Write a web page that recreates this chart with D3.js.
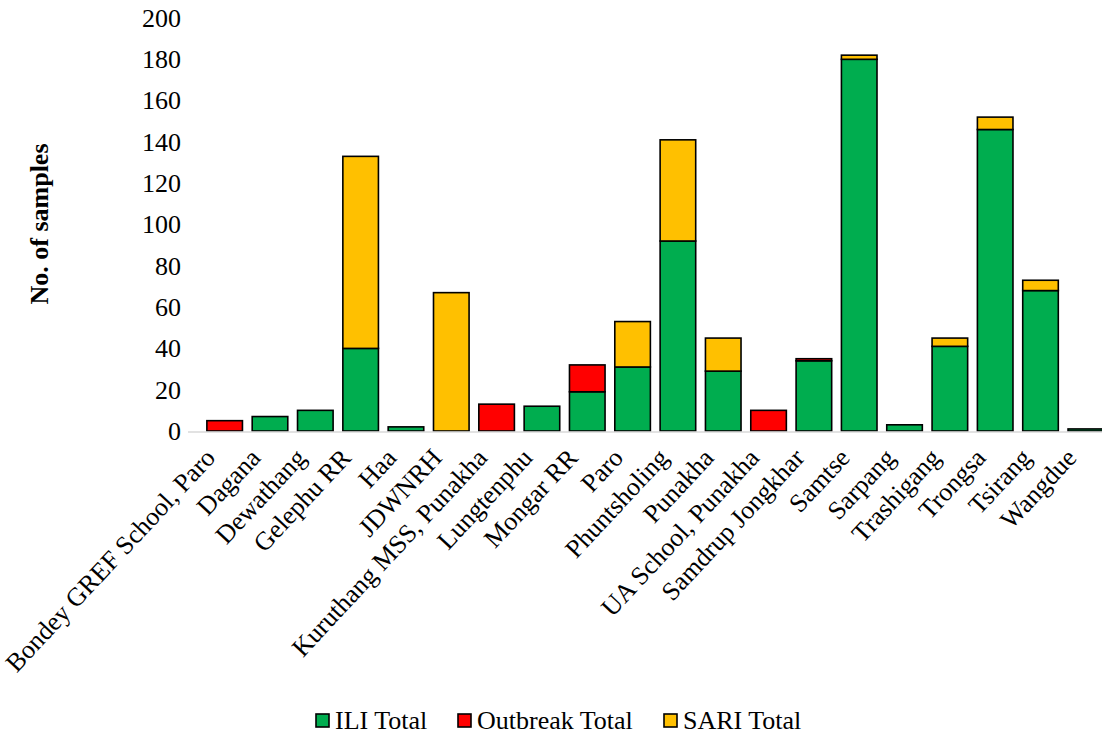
<!DOCTYPE html>
<html>
<head>
<meta charset="utf-8">
<script src="https://cdn.jsdelivr.net/npm/d3@7"></script>
<style>
  html, body { margin: 0; padding: 0; background: #fff; }
  svg text { font-family: "Liberation Serif", "Times New Roman", serif; fill: #000; }
</style>
</head>
<body>
<svg id="chart" width="1102" height="738"></svg>
<script>
// Samples per sentinel site, stacked by surveillance stream
const sites = [
  "Bondey GREF School, Paro", "Dagana", "Dewathang", "Gelephu RR", "Haa",
  "JDWNRH", "Kuruthang MSS, Punakha", "Lungtenphu", "Mongar RR", "Paro",
  "Phuntsholing", "Punakha", "UA School, Punakha", "Samdrup Jongkhar", "Samtse",
  "Sarpang", "Trashigang", "Trongsa", "Tsirang", "Wangdue"
];
const iliTotal      = [0, 7, 10, 40, 2, 0, 0, 12, 19, 31, 92, 29, 0, 34, 180, 3, 41, 146, 68, 1];
const outbreakTotal = [5, 0, 0, 0, 0, 0, 13, 0, 13, 0, 0, 0, 10, 1, 0, 0, 0, 0, 0, 0];
const sariTotal     = [0, 0, 0, 93, 0, 67, 0, 0, 0, 22, 49, 16, 0, 0, 2, 0, 4, 6, 5, 0];

const seriesNames  = ["ILI Total", "Outbreak Total", "SARI Total"];
const seriesColors = ["#00AD4F", "#FF0000", "#FFC000"];
const yTicks = [0, 20, 40, 60, 80, 100, 120, 140, 160, 180, 200];

const FONT = '"Liberation Serif", "Times New Roman", serif';
const FS = "26px";

const rows = sites.map((s, i) => ({
  site: s,
  "ILI Total": iliTotal[i],
  "Outbreak Total": outbreakTotal[i],
  "SARI Total": sariTotal[i]
}));

const svg = d3.select("#chart");
const plot = { left: 202, right: 1108.5, top: 18, bottom: 431 };

const x = d3.scaleBand()
  .domain(sites)
  .range([plot.left, plot.right])
  .paddingInner(0.215)
  .paddingOuter(0.1075);

const y = d3.scaleLinear().domain([0, 200]).range([plot.bottom, plot.top]);

const stack = d3.stack().keys(seriesNames)(rows);

// stacked bars
svg.append("g")
  .selectAll("g")
  .data(stack)
  .join("g")
  .attr("fill", (d, i) => seriesColors[i])
  .selectAll("rect")
  .data(d => d.filter(p => p[1] - p[0] > 0))
  .join("rect")
  .attr("x", d => x(d.data.site))
  .attr("width", x.bandwidth())
  .attr("y", d => y(d[1]))
  .attr("height", d => y(d[0]) - y(d[1]))
  .attr("stroke", "#000")
  .attr("stroke-width", 1.6);

// category baseline
svg.append("line")
  .attr("x1", 188).attr("x2", 1102)
  .attr("y1", y(0) + 1).attr("y2", y(0) + 1)
  .attr("stroke", "#d9d9d9").attr("stroke-width", 1.5);

// value axis
const yAxis = d3.axisLeft(y).tickValues(yTicks).tickSize(0).tickPadding(0);
svg.append("g")
  .attr("transform", "translate(181,0)")
  .call(yAxis)
  .attr("font-family", FONT)
  .attr("font-size", FS)
  .call(g => g.select(".domain").remove())
  .selectAll("text")
  .attr("fill", "#000");

// category axis labels, rotated
const xAxis = d3.axisBottom(x).tickSize(0).tickPadding(0);
svg.append("g")
  .attr("transform", `translate(0,${plot.bottom})`)
  .call(xAxis)
  .attr("font-family", FONT)
  .attr("font-size", FS)
  .call(g => g.select(".domain").remove())
  .selectAll("text")
  .attr("fill", "#000")
  .attr("text-anchor", "end")
  .attr("dy", "0")
  .attr("y", 0)
  .attr("transform", "translate(-8,28) rotate(-47)");

// value axis title
svg.append("text")
  .attr("transform", "translate(48,224) rotate(-90)")
  .attr("text-anchor", "middle")
  .attr("font-family", FONT)
  .attr("font-size", FS)
  .attr("font-weight", "bold")
  .text("No. of samples");

// legend
const legendItems = [
  { name: "ILI Total", x: 316 },
  { name: "Outbreak Total", x: 458 },
  { name: "SARI Total", x: 664 }
];
const legend = svg.append("g").attr("font-family", FONT).attr("font-size", FS);
legendItems.forEach((it, i) => {
  legend.append("rect")
    .attr("x", it.x).attr("y", 714)
    .attr("width", 13).attr("height", 13)
    .attr("fill", seriesColors[i])
    .attr("stroke", "#000").attr("stroke-width", 1.6);
  legend.append("text")
    .attr("x", it.x + 19).attr("y", 729)
    .text(it.name);
});
</script>
</body>
</html>
